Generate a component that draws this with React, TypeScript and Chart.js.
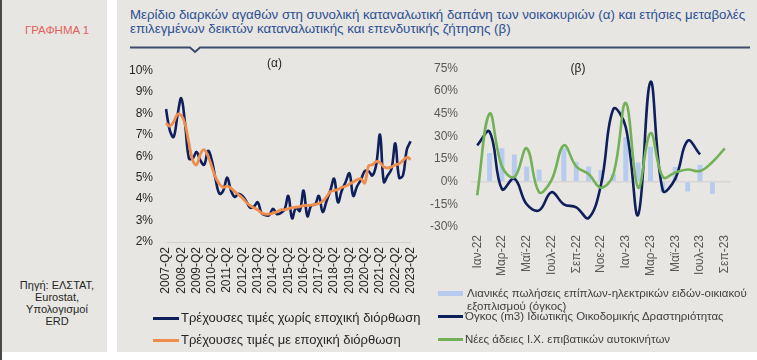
import React, { useEffect, useRef } from "react";
import { Chart, registerables } from "chart.js";

Chart.register(...registerables);

const FONT = "'Liberation Sans', Arial, Helvetica, sans-serif";
Chart.defaults.font.family = FONT;

// ---------- Chart (α): quarterly share of durable goods ----------
const firstYear = 2007;
const lastYear = 2023;
const allQuarters: string[] = [];
for (let y = firstYear; y <= lastYear; y++) {
  for (const q of [1, 2, 3, 4]) allQuarters.push(`${y}-Q${q}`);
}
const quarterLabels = allQuarters.slice(1, 66); // 2007-Q2 ... 2023-Q2

const unadjusted = [
  8.2, 7.2, 6.9, 7.9, 8.7, 7.5, 5.9, 5.9, 6.2, 5.8,
  5.6, 6.25, 5.8, 4.9, 4.25, 4.4, 5.0, 4.4, 4.1, 4.25,
  4.15, 3.9, 3.6, 3.65, 3.85, 3.35, 3.25, 3.25, 3.55, 3.3,
  3.35, 3.5, 4.15, 3.1, 3.6, 3.45, 4.4, 3.2, 3.7, 3.75,
  4.15, 3.4, 3.9, 4.4, 4.95, 3.85, 4.4, 4.8, 5.2, 4.15,
  4.6, 4.9, 5.3, 5.3, 5.1, 5.6, 7.0, 4.8, 5.1, 5.4,
  6.6, 5.0, 5.1, 6.3, 6.7,
];

const seasonallyAdjusted = [
  7.55, 7.4, 7.6, 7.95, 7.9, 7.5, 6.6, 5.8, 5.6, 6.1,
  6.3, 6.0, 5.5, 5.0, 4.7, 4.55, 4.6, 4.5, 4.35, 4.2,
  4.05, 3.85, 3.7, 3.6, 3.5, 3.35, 3.3, 3.3, 3.35, 3.4,
  3.5, 3.5, 3.55, 3.6, 3.62, 3.65, 3.7, 3.7, 3.72, 3.75,
  3.8, 3.9, 4.1, 4.35, 4.4, 4.45, 4.55, 4.6, 4.7, 4.8,
  4.9, 4.95, 4.75, 5.55, 5.6, 5.75, 5.7, 5.5, 5.45, 5.5,
  5.6, 5.65, 5.8, 5.95, 5.85,
];

// ---------- Chart (β): monthly annual changes ----------
const monthLabels = [
  "Ιαν-22", "Φεβ-22", "Μαρ-22", "Απρ-22", "Μαϊ-22", "Ιουν-22", "Ιουλ-22",
  "Αυγ-22", "Σεπ-22", "Οκτ-22", "Νοε-22", "Δεκ-22", "Ιαν-23", "Φεβ-23",
  "Μαρ-23", "Απρ-23", "Μαϊ-23", "Ιουν-23", "Ιουλ-23", "Αυγ-23", "Σεπ-23",
];

const retailFurniture = [
  null, 19, 22, 18, 10, 8, null, 22, 13, 10, 7.5,
  5, 29.5, 12.7, 23, -7, 9.6, -6.6, 11.2, -8, null,
];

const buildingVolume = [
  24, 33, -5, 2, -15, -19, -7, -15, -17, -24, -2,
  48, 36, -22, 66, -6, 2, 27, 18, null, null,
];

const newCarLicences = [
  -9, 45, 10, 3, 22, -7, 1, 24, 10, 5, -4,
  5, 52, -4, 32, 3, 6, 8, 7, 13, 22,
];

const NAVY = "#0f1f5c";
const ORANGE = "#ef8d4c";
const GREEN = "#72b157";
const LIGHTBLUE = "#b6cbee";

function LeftChart() {
  const ref = useRef<HTMLCanvasElement>(null);
  useEffect(() => {
    const chart = new Chart(ref.current!, {
      type: "line",
      data: {
        labels: quarterLabels,
        datasets: [
          {
            label: "Τρέχουσες τιμές με εποχική διόρθωση",
            data: seasonallyAdjusted,
            borderColor: ORANGE,
            borderWidth: 2.8,
            pointRadius: 0,
            tension: 0.4,
            order: 0,
          },
          {
            label: "Τρέχουσες τιμές χωρίς εποχική διόρθωση",
            data: unadjusted,
            borderColor: NAVY,
            borderWidth: 2.6,
            pointRadius: 0,
            tension: 0.4,
            order: 1,
          },
        ],
      },
      options: {
        responsive: false,
        animation: false,
        layout: { padding: { top: 0, right: 9, left: 0, bottom: 0 } },
        plugins: {
          legend: { display: false },
          tooltip: { enabled: false },
          title: {
            display: true,
            text: "(α)",
            color: "#262626",
            font: { size: 12, weight: "normal" },
            padding: { top: 8, bottom: 0 },
          },
        },
        scales: {
          x: {
            grid: { display: false, drawTicks: false },
            border: { display: true, color: "#d0d0d0", width: 1 },
            ticks: {
              autoSkip: false,
              minRotation: 90,
              maxRotation: 90,
              padding: 5,
              color: "#262626",
              font: { size: 12 },
              callback: (_v: any, i: number) =>
                quarterLabels[i].endsWith("Q2") ? quarterLabels[i] : "",
            },
            afterFit: (s: any) => {
              s.height = 56;
            },
          },
          y: {
            min: 2,
            max: 10,
            grid: { display: false, drawTicks: false },
            border: { display: false },
            ticks: {
              stepSize: 1,
              padding: 13,
              color: "#262626",
              font: { size: 12 },
              callback: (v: any) => `${v}%`,
            },
            afterFit: (s: any) => {
              s.width = 38;
            },
          },
        },
      },
    });
    return () => chart.destroy();
  }, []);
  return (
    <canvas
      ref={ref}
      width={302}
      height={250}
      style={{ position: "absolute", left: 128, top: 48, width: 302, height: 250 }}
    />
  );
}

function RightChart() {
  const ref = useRef<HTMLCanvasElement>(null);
  useEffect(() => {
    const chart = new Chart(ref.current!, {
      type: "bar",
      data: {
        labels: monthLabels,
        datasets: [
          {
            type: "line",
            label: "Νέες άδειες Ι.Χ. επιβατικών αυτοκινήτων",
            data: newCarLicences,
            borderColor: GREEN,
            borderWidth: 2.6,
            pointRadius: 0,
            tension: 0.4,
            order: 0,
          },
          {
            type: "line",
            label: "Όγκος (m3) Ιδιωτικής Οικοδομικής Δραστηριότητας",
            data: buildingVolume,
            borderColor: NAVY,
            borderWidth: 2.6,
            pointRadius: 0,
            tension: 0.4,
            spanGaps: false,
            order: 1,
          },
          {
            type: "bar",
            label: "Λιανικές πωλήσεις επίπλων-ηλεκτρικών ειδών-οικιακού εξοπλισμού (όγκος)",
            data: retailFurniture,
            backgroundColor: LIGHTBLUE,
            categoryPercentage: 0.8,
            barPercentage: 0.5,
            order: 2,
          },
        ] as any,
      },
      options: {
        responsive: false,
        animation: false,
        layout: { padding: { top: 0, right: 26, left: 0, bottom: 0 } },
        plugins: {
          legend: { display: false },
          tooltip: { enabled: false },
          title: {
            display: true,
            text: "(β)",
            color: "#262626",
            font: { size: 12, weight: "normal" },
            padding: { top: 12.5, bottom: -7.9 },
          },
        },
        scales: {
          x: {
            offset: true,
            grid: { display: false, drawTicks: false },
            border: { display: false },
            ticks: {
              autoSkip: false,
              minRotation: 90,
              maxRotation: 90,
              padding: 8,
              color: "#595959",
              font: { size: 12 },
              callback: (_v: any, i: number) => (i % 2 === 0 ? monthLabels[i] : ""),
            },
            afterFit: (s: any) => {
              s.height = 53;
            },
          },
          y: {
            min: -30,
            max: 75,
            grid: {
              drawTicks: false,
              color: (c: any) => (c.tick && c.tick.value === 0 ? "#d6d6d6" : "rgba(0,0,0,0)"),
              lineWidth: 1.5,
            },
            border: { display: false },
            ticks: {
              stepSize: 15,
              padding: 13,
              color: "#595959",
              font: { size: 12 },
              callback: (v: any) => `${v}%`,
            },
            afterFit: (s: any) => {
              s.width = 46;
            },
          },
        },
      },
    });
    return () => chart.destroy();
  }, []);
  return (
    <canvas
      ref={ref}
      width={332}
      height={232}
      style={{ position: "absolute", left: 425, top: 48, width: 332, height: 232 }}
    />
  );
}

function LegendLine({ color, thick, left, top, width }: any) {
  return (
    <div
      style={{
        position: "absolute",
        left,
        top: top - thick / 2,
        width,
        height: thick,
        background: color,
      }}
    />
  );
}

export default function App() {
  const abs: React.CSSProperties = { position: "absolute" };
  return (
    <div
      style={{
        position: "absolute",
        left: 0,
        top: 0,
        width: 757,
        height: 360,
        background: "#ffffff",
        overflow: "hidden",
        fontFamily: FONT,
      }}
    >
      {/* left dark edge */}
      <div style={{ ...abs, left: 0, top: 0, width: 2, height: 360, background: "#4a4a4a" }} />
      {/* sidebar */}
      <div style={{ ...abs, left: 2, top: 0, width: 105, height: 352, background: "#e8e6e2" }} />
      <div
        style={{
          ...abs,
          left: 2,
          top: 23,
          width: 110,
          textAlign: "center",
          color: "#e3605a",
          fontSize: 11.5,
          lineHeight: "14px",
        }}
      >
        ΓΡΑΦΗΜΑ 1
      </div>
      <div
        style={{
          ...abs,
          left: 2,
          top: 279,
          width: 110,
          textAlign: "center",
          color: "#262626",
          fontSize: 11,
          lineHeight: "12px",
        }}
      >
        Πηγή: ΕΛΣΤΑΤ,
        <br />
        Eurostat,
        <br />
        Υπολογισμοί
        <br />
        ERD
      </div>

      {/* main panel */}
      <div style={{ ...abs, left: 117, top: 0, width: 640, height: 352, background: "#e8e6e2" }} />
      <div
        style={{
          ...abs,
          left: 130,
          top: 8,
          width: 625,
          color: "#2b4f93",
          fontSize: 13.3,
          lineHeight: "13.5px",
          whiteSpace: "nowrap",
        }}
      >
        Μερίδιο διαρκών αγαθών στη συνολική καταναλωτική δαπάνη των νοικοκυριών (α) και ετήσιες μεταβολές
        <br />
        επιλεγμένων δεικτών καταναλωτικής και επενδυτικής ζήτησης (β)
      </div>
      <svg style={{ ...abs, left: 0, top: 0 }} width={757} height={60}>
        <polyline
          points="130,47.5 190,47.5 195,52 200,47.5 750,47.5"
          fill="none"
          stroke="#3d4b6a"
          strokeWidth={2}
        />
      </svg>

      <LeftChart />
      <RightChart />

      {/* left legend */}
      <LegendLine color={NAVY} thick={3} left={153} top={318} width={26} />
      <div style={{ ...abs, left: 181, top: 310, fontSize: 13, lineHeight: "16px", color: "#262626", whiteSpace: "nowrap" }}>
        Τρέχουσες τιμές χωρίς εποχική διόρθωση
      </div>
      <LegendLine color={ORANGE} thick={3} left={153} top={340} width={26} />
      <div style={{ ...abs, left: 181, top: 332, fontSize: 13, lineHeight: "16px", color: "#262626", whiteSpace: "nowrap" }}>
        Τρέχουσες τιμές με εποχική διόρθωση
      </div>

      {/* right legend */}
      <LegendLine color={LIGHTBLUE} thick={5} left={438} top={293} width={25} />
      <div style={{ ...abs, left: 467, top: 286.5, fontSize: 11.5, lineHeight: "13px", color: "#404040", whiteSpace: "nowrap" }}>
        Λιανικές πωλήσεις επίπλων-ηλεκτρικών ειδών-οικιακού
        <br />
        εξοπλισμού (όγκος)
      </div>
      <LegendLine color={NAVY} thick={3} left={438} top={316} width={25} />
      <div style={{ ...abs, left: 465, top: 309.5, fontSize: 11.5, lineHeight: "13px", color: "#404040", whiteSpace: "nowrap" }}>
        Όγκος (m3) Ιδιωτικής Οικοδομικής Δραστηριότητας
      </div>
      <LegendLine color={GREEN} thick={3} left={438} top={339} width={25} />
      <div style={{ ...abs, left: 465, top: 332.5, fontSize: 11.5, lineHeight: "13px", color: "#404040", whiteSpace: "nowrap" }}>
        Νέες άδειες Ι.Χ. επιβατικών αυτοκινήτων
      </div>
    </div>
  );
}
